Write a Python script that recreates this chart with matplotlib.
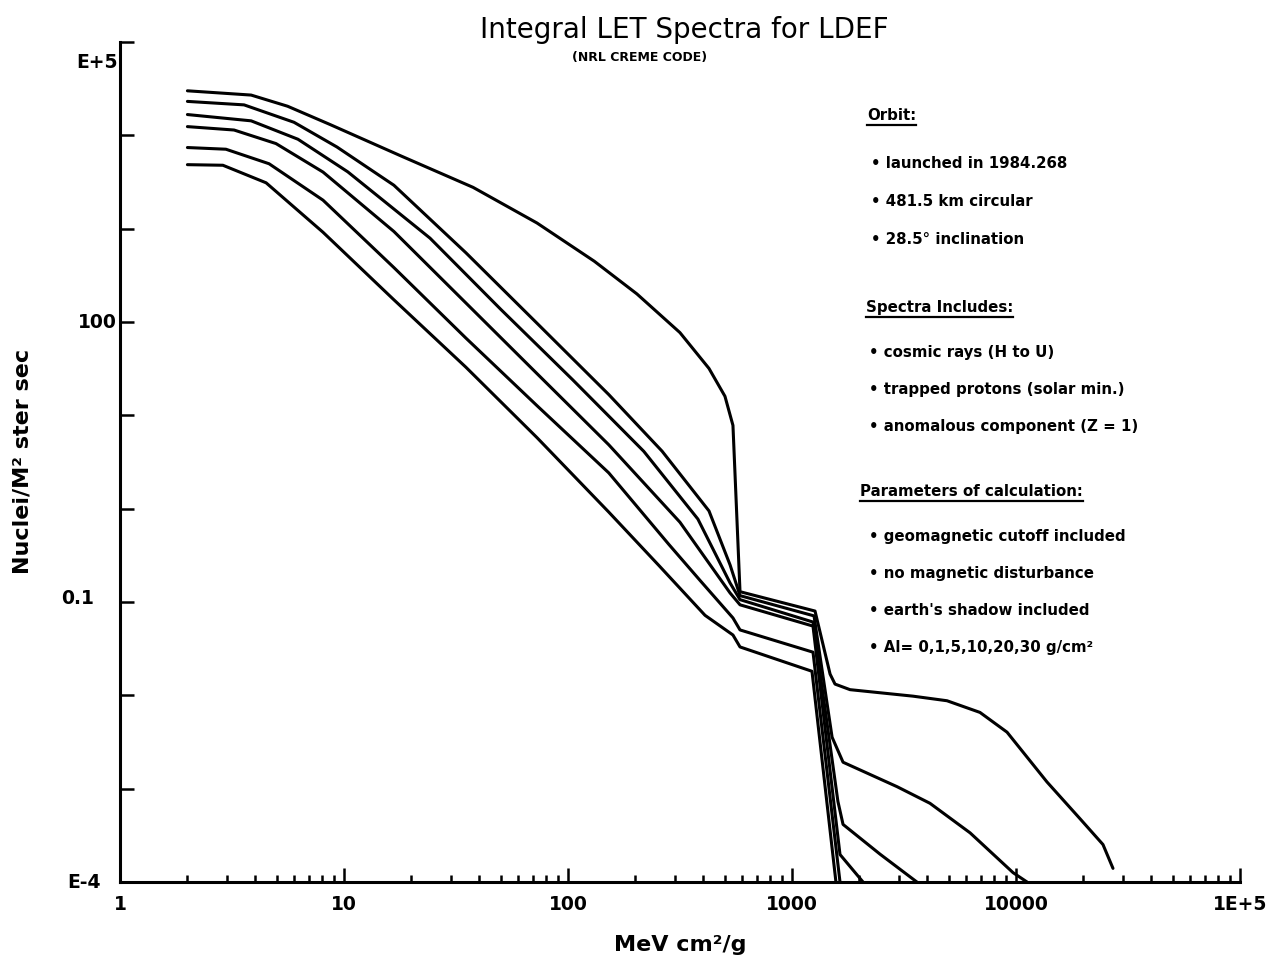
import matplotlib
matplotlib.use("Agg")
import matplotlib.pyplot as plt
from matplotlib.ticker import FixedLocator, NullLocator, NullFormatter
from matplotlib.transforms import ScaledTranslation, blended_transform_factory
from matplotlib.lines import Line2D

# Integral LET spectra (MeV cm^2/g vs Nuclei / m^2 ster sec), one curve per Al shielding depth
let_al0 = [2.0, 3.85, 5.6, 8.7, 18, 37.7, 72.7, 131, 203, 316, 426, 502, 545, 586,
           1267, 1479, 1556, 1816, 3467, 4920, 6905, 9120, 13750, 19300, 24450, 27100]
flux_al0 = [3.0e4, 2.7e4, 2.05e4, 1.3e4, 6.0e3, 2.77e3, 1.15e3, 448, 200, 77, 31.8, 16, 7.8, 0.129,
            0.080, 0.0169, 0.0132, 0.0115, 0.0098, 0.00875, 0.00656, 0.00403, 0.00118, 4.77e-4,
            2.52e-4, 1.40e-4]

let_al1 = [2.0, 3.58, 5.98, 9.3, 16.7, 35, 72.7, 152, 263, 426, 529, 586,
           1254, 1510, 1690, 2945, 4130, 6240, 9700, 11200]
flux_al1 = [2.31e4, 2.12e4, 1.38e4, 7.5e3, 2.92e3, 552, 97, 16.7, 4.13, 0.946, 0.25, 0.117,
            0.071, 0.00356, 0.00192, 0.00105, 6.97e-4, 3.36e-4, 1.26e-4, 1.0e-4]

let_al5 = [2.0, 3.85, 6.23, 10.4, 24.2, 50.2, 105, 218, 380, 529, 586,
           1241, 1603, 1690, 2470, 3610]
flux_al5 = [1.67e4, 1.43e4, 9.08e3, 4.06e3, 792, 136, 24, 4.11, 0.774, 0.16, 0.106,
            0.061, 7.3e-4, 4.14e-4, 1.99e-4, 1.0e-4]

let_al10 = [2.0, 3.23, 4.97, 8.06, 16.7, 35, 72.7, 152, 316, 529, 586, 1241, 1638, 2075]
flux_al10 = [1.24e4, 1.14e4, 8.16e3, 4.04e3, 933, 160, 28, 4.84, 0.716, 0.125, 0.0933,
             0.0552, 1.97e-4, 1.0e-4]

let_al20 = [2.0, 2.97, 4.63, 8.06, 16.7, 35, 72.7, 152, 282, 388, 545, 586, 1241, 1638]
flux_al20 = [7.4e3, 7.1e3, 4.96e3, 2.02e3, 383, 67.3, 12.7, 2.42, 0.414, 0.171, 0.0675,
             0.0502, 0.029, 1.0e-4]

let_al30 = [2.0, 2.88, 4.49, 8.06, 16.7, 35, 72.7, 152, 255, 409, 545, 586, 1228, 1571]
flux_al30 = [4.85e3, 4.78e3, 3.1e3, 915, 173, 32.8, 5.77, 0.92, 0.245, 0.072, 0.0443,
             0.033, 0.0181, 1.0e-4]

curves = [(let_al0, flux_al0), (let_al1, flux_al1), (let_al5, flux_al5),
          (let_al10, flux_al10), (let_al20, flux_al20), (let_al30, flux_al30)]

x_ticks = [1, 10, 100, 1000, 10000, 100000]
x_tick_labels = ["1", "10", "100", "1000", "10000", "1E+5"]
y_ticks = [1e-4, 1e-3, 1e-2, 1e-1, 1, 10, 100, 1e3, 1e4, 1e5]
y_label_values = [1e5, 100, 0.1, 1e-4]
y_label_texts = ["E+5", "100", "0.1", "E-4"]

orbit_lines = ["launched in 1984.268", "481.5 km circular", "28.5° inclination"]
spectra_lines = ["cosmic rays (H to U)", "trapped protons (solar min.)",
                 "anomalous component (Z = 1)"]
param_lines = ["geomagnetic cutoff included", "no magnetic disturbance",
               "earth's shadow included", "Al= 0,1,5,10,20,30 g/cm²"]

plt.rcParams['font.family'] = ['DejaVu Sans']

W, H = 1287, 968
fig = plt.figure(figsize=(W / 100, H / 100), dpi=100)


def fx(px):
    return px / W


def fy(py):
    return 1 - py / H


ax = fig.add_axes([fx(120), fy(882), fx(1240) - fx(120), fy(42) - fy(882)])
ax.set_xscale('log')
ax.set_yscale('log')

for xs, ys in curves:
    ax.plot(xs, ys, color='black', lw=2.2, solid_joinstyle='round', solid_capstyle='round')

ax.set_xlim(1, 1e5)
ax.set_ylim(1e-4, 1e5)

for side in ('top', 'right'):
    ax.spines[side].set_visible(False)
for side in ('left', 'bottom'):
    ax.spines[side].set_linewidth(2.2)

ax.xaxis.set_major_locator(FixedLocator(x_ticks))
ax.set_xticklabels(x_tick_labels, fontweight='bold')
minor = [m * 10 ** d for d in range(0, 5) for m in range(2, 10)]
ax.xaxis.set_minor_locator(FixedLocator(minor))
ax.xaxis.set_minor_formatter(NullFormatter())
ax.tick_params(axis='x', which='major', direction='in', length=10, width=1.8,
               pad=9, labelsize=13.5)
ax.tick_params(axis='x', which='minor', direction='in', length=5, width=1.8)

ax.yaxis.set_major_locator(FixedLocator(y_ticks))
ax.yaxis.set_major_formatter(NullFormatter())
ax.yaxis.set_minor_locator(NullLocator())
ax.tick_params(axis='y', which='major', direction='in', length=10, width=1.8)

# y labels placed individually: right edge in figure pixels, height in data units
ylab_tf = blended_transform_factory(fig.transFigure, ax.transData)
ylab_right = [118, 117, 94, 101]
ylab_shift = [-20, 0, 3, 0]
for val, txt, right, dy in zip(y_label_values, y_label_texts, ylab_right, ylab_shift):
    off = ScaledTranslation(0, dy / 100, fig.dpi_scale_trans)
    ax.text(fx(right), val, txt, transform=ylab_tf + off, ha='right', va='center',
            fontsize=13.5, fontweight='bold', clip_on=False)

fig.text(fx(684), fy(30), "Integral LET Spectra for LDEF", ha='center', va='center',
         fontsize=20)
fig.text(fx(640), fy(57), "(NRL CREME CODE)", ha='center', va='center',
         fontsize=9, fontweight='bold')
fig.text(fx(680), fy(945), "MeV cm²/g", ha='center', va='center',
         fontsize=16, fontweight='bold')
fig.text(fx(23), fy(461), "Nuclei/M² ster sec", ha='center', va='center',
         rotation=90, fontsize=16, fontweight='bold')

headers = []


def block(title, hx, hy, items, ix, iy0, step):
    t = fig.text(fx(hx), fy(hy), title, ha='left', va='center', fontsize=10.8,
                 fontweight='bold')
    headers.append(t)
    for i, s in enumerate(items):
        fig.text(fx(ix), fy(iy0 + i * step), "• " + s, ha='left', va='center',
                 fontsize=10.8, fontweight='bold')


block("Orbit:", 867, 115, orbit_lines, 871, 164, 37.5)
block("Spectra Includes:", 866, 308, spectra_lines, 869, 352, 37.5)
block("Parameters of calculation:", 860, 491, param_lines, 869, 537, 36.7)

fig.canvas.draw()
renderer = fig.canvas.get_renderer()
for t in headers:
    bb = t.get_window_extent(renderer)
    y = bb.y0 - 2
    fig.add_artist(Line2D([bb.x0 / W, bb.x1 / W], [y / H, y / H],
                          transform=fig.transFigure, color='black', lw=1.6))

fig.savefig("out.png", dpi=100, facecolor='white')
